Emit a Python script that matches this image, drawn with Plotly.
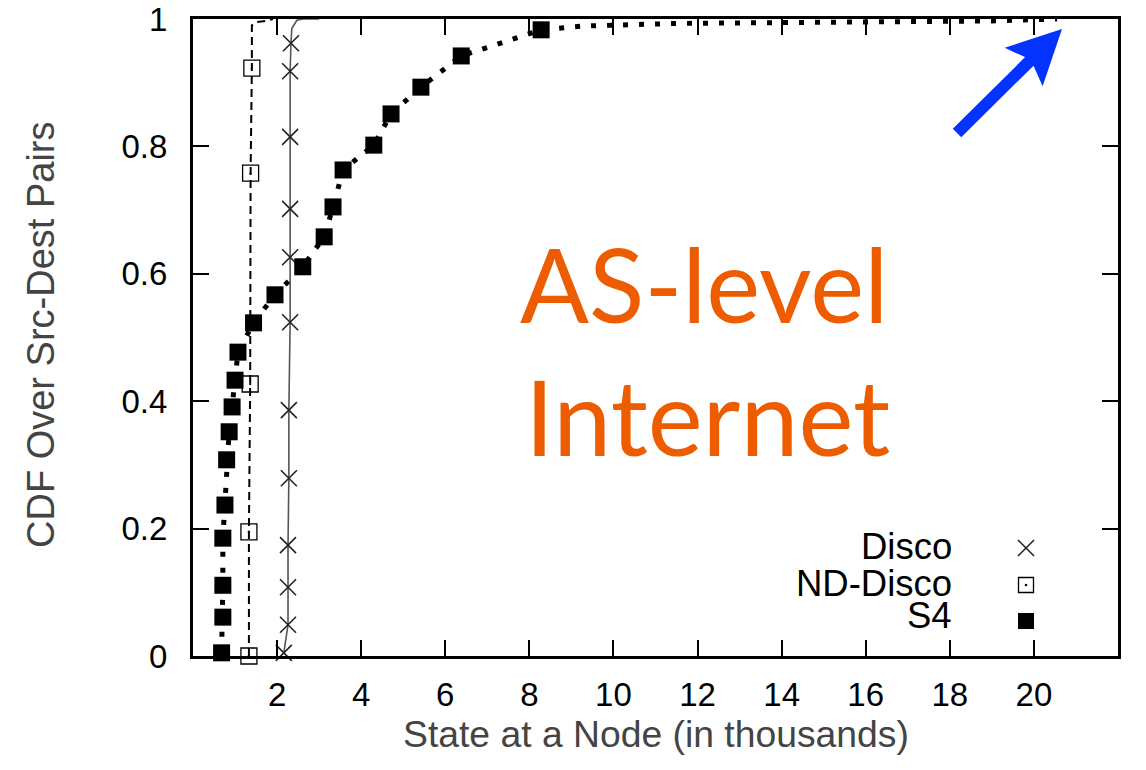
import plotly.graph_objects as go
import math

# ---------------- data ----------------
disco_x = [2.16, 2.26, 2.26, 2.26, 2.28, 2.28, 2.31, 2.31, 2.31, 2.31, 2.31, 2.33]
disco_y = [0.005, 0.049, 0.108, 0.174, 0.279, 0.386, 0.524, 0.626, 0.702, 0.815, 0.918, 0.962]
disco_tail_x = [2.35, 2.47, 2.62, 3.0]
disco_tail_y = [0.985, 0.998, 1.0, 1.0]

nd_x = [1.33, 1.33, 1.36, 1.37, 1.40]
nd_y = [0.0, 0.195, 0.427, 0.758, 0.923]
nd_tail_x = [1.40, 1.51, 1.75, 1.9]
nd_tail_y = [0.99, 0.995, 0.997, 1.0]

s4_x = [0.68, 0.71, 0.71, 0.71, 0.76, 0.80, 0.86, 0.93, 1.00, 1.07, 1.44,
        1.95, 2.61, 3.12, 3.33, 3.57, 4.30, 4.71, 5.42, 6.38, 8.28]
s4_y = [0.005, 0.061, 0.111, 0.185, 0.237, 0.308, 0.352, 0.391, 0.433, 0.477, 0.523,
        0.567, 0.611, 0.658, 0.705, 0.763, 0.802, 0.851, 0.893, 0.942, 0.983]
s4_tail_x = [9.3, 11.5, 15.0, 19.0, 20.55]
s4_tail_y = [0.989, 0.993, 0.995, 0.997, 1.0]

x_ticks = [2, 4, 6, 8, 10, 12, 14, 16, 18, 20]
y_ticks = [0, 0.2, 0.4, 0.6, 0.8, 1]
y_tick_text = ["0", "0.2", "0.4", "0.6", "0.8", "1"]
series_names = ["Disco", "ND-Disco", "S4"]

# ---------------- layout geometry (pixels) ----------------
W, H = 1146, 770
L, R, T, B = 193, 1118, 19, 656


def px(x):
    return (x - L) / (R - L)


def py(y):
    return (B - y) / (B - T)


FONT = "Liberation Sans, Arial, Helvetica, sans-serif"

fig = go.Figure()

# lines
fig.add_trace(go.Scatter(x=disco_x + disco_tail_x, y=disco_y + disco_tail_y, mode="lines",
                         line=dict(color="#555555", width=1.6), showlegend=False, hoverinfo="skip"))
fig.add_trace(go.Scatter(x=nd_x + nd_tail_x, y=nd_y + nd_tail_y, mode="lines",
                         line=dict(color="black", width=2, dash="8px,5px"), showlegend=False,
                         hoverinfo="skip"))
fig.add_trace(go.Scatter(x=s4_x + s4_tail_x, y=s4_y + s4_tail_y, mode="lines",
                         line=dict(color="black", width=5, dash="5px,11px"), showlegend=False,
                         hoverinfo="skip"))

# markers
fig.add_trace(go.Scatter(x=disco_x, y=disco_y, mode="markers", name=series_names[0],
                         marker=dict(symbol="x-thin", size=16, color="#222222",
                                     line=dict(color="#222222", width=1.6)),
                         cliponaxis=False, showlegend=False))
fig.add_trace(go.Scatter(x=nd_x, y=nd_y, mode="markers", name=series_names[1],
                         marker=dict(symbol="square-open-dot", size=16, color="black",
                                     line=dict(color="black", width=1.3)),
                         cliponaxis=False, showlegend=False))
fig.add_trace(go.Scatter(x=s4_x, y=s4_y, mode="markers", name=series_names[2],
                         marker=dict(symbol="square", size=17, color="black",
                                     line=dict(width=0)),
                         cliponaxis=False, showlegend=False))

axis_common = dict(showline=True, linewidth=3, linecolor="black", mirror="ticks",
                   ticks="inside", ticklen=16, tickwidth=2, tickcolor="black",
                   showgrid=False, zeroline=False, automargin=False,
                   tickfont=dict(family=FONT, size=33, color="black"))

fig.update_xaxes(range=[0, 22], tickvals=x_ticks, ticktext=[str(v) for v in x_ticks],
                 ticklabelstandoff=7, **axis_common)
fig.update_yaxes(range=[0, 1], tickvals=y_ticks, ticktext=y_tick_text,
                 ticklabelstandoff=16, **axis_common)

annotations = []
# axis titles
annotations.append(dict(text="State at a Node (in thousands)", x=px(656), y=py(734),
                        xref="paper", yref="paper", xanchor="center", yanchor="middle",
                        showarrow=False, font=dict(family=FONT, size=37.3, color="#444444")))
annotations.append(dict(text="CDF Over Src-Dest Pairs", x=px(41), y=py(335),
                        xref="paper", yref="paper", xanchor="center", yanchor="middle",
                        textangle=-90, showarrow=False,
                        font=dict(family=FONT, size=38, color="#444444")))
# big orange label
annotations.append(dict(text="AS-level", x=px(518), y=py(283), xref="paper", yref="paper",
                        xanchor="left", yanchor="middle", showarrow=False,
                        font=dict(family="Lato, sans-serif", size=102, color="#EE5C00")))
annotations.append(dict(text="Internet", x=px(523), y=py(415), xref="paper", yref="paper",
                        xanchor="left", yanchor="middle", showarrow=False,
                        font=dict(family="Lato, sans-serif", size=104, color="#EE5C00")))
# legend texts
for name, yc in zip(series_names, [546, 583, 615]):
    annotations.append(dict(text=name, x=px(954), y=py(yc), xref="paper", yref="paper",
                            xanchor="right", yanchor="middle", showarrow=False,
                            font=dict(family=FONT, size=36.5, color="black")))

shapes = []
# legend symbols
cx = 1026
s = 8
shapes.append(dict(type="line", xref="paper", yref="paper", x0=px(cx - s), y0=py(548 - s),
                   x1=px(cx + s), y1=py(548 + s), line=dict(color="#222222", width=1.6)))
shapes.append(dict(type="line", xref="paper", yref="paper", x0=px(cx - s), y0=py(548 + s),
                   x1=px(cx + s), y1=py(548 - s), line=dict(color="#222222", width=1.6)))
shapes.append(dict(type="rect", xref="paper", yref="paper", x0=px(cx - 7.5), y0=py(585 - 7.5),
                   x1=px(cx + 7.5), y1=py(585 + 7.5), line=dict(color="black", width=1.3)))
shapes.append(dict(type="circle", xref="paper", yref="paper", x0=px(cx - 1.3), y0=py(585 - 1.3),
                   x1=px(cx + 1.3), y1=py(585 + 1.3), fillcolor="black",
                   line=dict(color="black", width=0)))
shapes.append(dict(type="rect", xref="paper", yref="paper", x0=px(cx - 8), y0=py(621 - 8),
                   x1=px(cx + 8), y1=py(621 + 8), fillcolor="black", line=dict(width=0)))

# blue arrow (decoration)
Tx, Ty = 957.0, 133.0
Px, Py = 1062.0, 29.0
dx, dy = Px - Tx, Py - Ty
ln = math.hypot(dx, dy)
ux, uy = dx / ln, dy / ln
nx, ny = -uy, ux
head_len, head_half, shaft_half, notch = 54.0, 27.0, 6.0, 8.0
Bx, By = Px - ux * head_len, Py - uy * head_len
Jx, Jy = Bx + ux * notch, By + uy * notch
pts = [
    (Tx + nx * shaft_half, Ty + ny * shaft_half),
    (Jx + nx * shaft_half, Jy + ny * shaft_half),
    (Bx + nx * head_half, By + ny * head_half),
    (Px, Py),
    (Bx - nx * head_half, By - ny * head_half),
    (Jx - nx * shaft_half, Jy - ny * shaft_half),
    (Tx - nx * shaft_half, Ty - ny * shaft_half),
]
path = "M " + " L ".join(f"{px(a):.5f},{py(b):.5f}" for a, b in pts) + " Z"
shapes.append(dict(type="path", xref="paper", yref="paper", path=path,
                   fillcolor="#0433FF", line=dict(width=0)))

fig.update_layout(width=W, height=H, margin=dict(l=L, r=W - R, t=T, b=H - B, pad=0),
                  plot_bgcolor="white", paper_bgcolor="white",
                  annotations=annotations, shapes=shapes, showlegend=False)

fig.write_html("out.html", config={"displayModeBar": False},
               post_script="document.body.style.margin='0px';document.body.style.overflow='hidden';")
